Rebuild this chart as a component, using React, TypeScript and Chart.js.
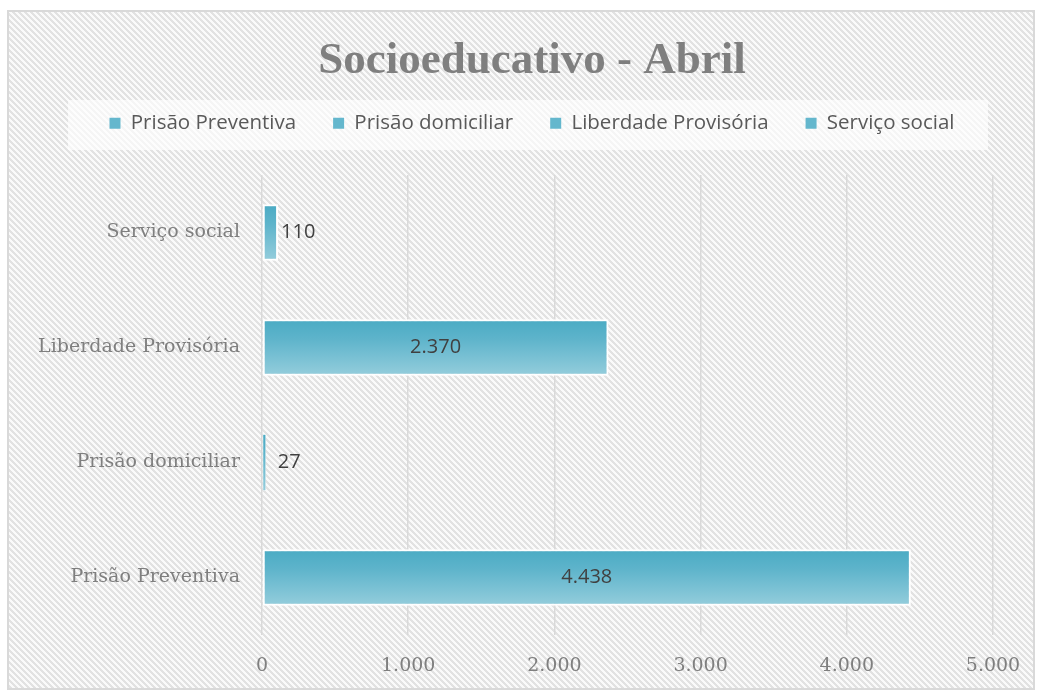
import React, { useEffect, useRef } from "react";
import { Chart, registerables } from "chart.js";
Chart.register(...registerables);

const chartTitle = "Socioeducativo - Abril";
const categories = ["Prisão Preventiva", "Prisão domiciliar", "Liberdade Provisória", "Serviço social"];
const values = [4438, 27, 2370, 110];
const xTickValues = [0, 1000, 2000, 3000, 4000, 5000];

const fmt = (v: number) => String(v).replace(/\B(?=(\d{3})+(?!\d))/g, ".");

function makePattern(ctx: CanvasRenderingContext2D) {
  const c = document.createElement("canvas");
  c.width = 6; c.height = 6;
  const p = c.getContext("2d")!;
  const img = p.createImageData(6, 6);
  for (let y = 0; y < 6; y++) for (let x = 0; x < 6; x++) {
    const on = (((x - y) % 6) + 6) % 6 < 3;
    const v = on ? 226 : 250;
    const i = (y * 6 + x) * 4;
    img.data[i] = v; img.data[i + 1] = v; img.data[i + 2] = v; img.data[i + 3] = 255;
  }
  p.putImageData(img, 0, 0);
  return ctx.createPattern(c, "repeat")!;
}

export default function App() {
  const ref = useRef<HTMLCanvasElement>(null);
  useEffect(() => {
    const canvas = ref.current!;
    const bgPlugin = {
      id: "bg",
      beforeLayout(chart: any) {
        const lg = chart.legend;
        if (lg && !lg.__patched) {
          const f = lg.fit;
          lg.fit = function () {
            f.call(this);
            this.height += 31.5;
          };
          lg.__patched = true;
        }
      },
      beforeDraw(chart: any) {
        const ctx = chart.ctx as CanvasRenderingContext2D;
        ctx.save();
        ctx.fillStyle = "#ffffff";
        ctx.fillRect(0, 0, chart.width, chart.height);
        ctx.fillStyle = makePattern(ctx);
        ctx.fillRect(8, 11, 1026, 678);
        ctx.strokeStyle = "#d9d9d9";
        ctx.lineWidth = 2;
        ctx.strokeRect(8, 11, 1026, 678);
        ctx.fillStyle = "rgba(255,255,255,0.65)";
        ctx.fillRect(68, 100, 920, 50);
        ctx.restore();
      },
    };
    const labelPlugin = {
      id: "vals",
      afterDatasetsDraw(chart: any) {
        const ctx = chart.ctx as CanvasRenderingContext2D;
        const meta = chart.getDatasetMeta(0);
        ctx.save();
        ctx.font = "20px 'Open Sans'";
        ctx.fillStyle = "#404040";
        ctx.textBaseline = "middle";
        meta.data.forEach((bar: any, i: number) => {
          const txt = fmt(values[i]);
          const w = bar.x - bar.base;
          if (w > 100) {
            ctx.textAlign = "center";
            ctx.fillText(txt, (bar.x + bar.base) / 2, bar.y);
          } else {
            ctx.textAlign = "left";
            ctx.fillText(txt, Math.max(bar.x + 3, bar.base + 15), bar.y);
          }
        });
        ctx.restore();
      },
    };
    const chart = new Chart(canvas, {
      type: "bar",
      data: {
        labels: categories,
        datasets: [
          {
            data: values,
            backgroundColor: (c: any) => {
              const ch = c.chart;
              const ys = ch.scales?.y;
              if (!ys) return "#6bbcd1";
              const cy = ys.getPixelForValue(c.dataIndex);
              const g = ch.ctx.createLinearGradient(0, cy - 28, 0, cy + 28);
              g.addColorStop(0, "#4aabc4");
              g.addColorStop(0.35, "#5eb4cb");
              g.addColorStop(1, "#94cddc");
              return g;
            },
            borderColor: "#ffffff",
            borderWidth: (c: any) => (values[c.dataIndex] < 100 ? 0.5 : 2),
            borderSkipped: false,
            barPercentage: 0.98,
            categoryPercentage: 0.5,
          },
        ],
      },
      options: {
        indexAxis: "y",
        responsive: false,
        animation: false,
        devicePixelRatio: 1,
        layout: { padding: { left: 71, right: 49, top: 12, bottom: 10 } },
        plugins: {
          title: {
            display: true,
            text: chartTitle,
            color: "#7f7f7f",
            font: { family: "'Liberation Serif'", size: 45, weight: "bold" },
            padding: { top: 22, bottom: -12 },
          },
          legend: {
            display: true,
            labels: {
              color: "#595959",
              font: { family: "'Open Sans'", size: 20.5 },
              boxWidth: 11,
              boxHeight: 11,
              padding: 37,
              generateLabels: () =>
                categories.map((c, i) => ({
                  text: c,
                  fillStyle: "#64b7cd",
                  strokeStyle: "#64b7cd",
                  fontColor: "#595959",
                  lineWidth: 0,
                  hidden: false,
                  index: i,
                  datasetIndex: 0,
                })),
            },
            onClick: () => {},
          },
          tooltip: { enabled: false },
        },
        scales: {
          x: {
            min: 0,
            max: 5000,
            afterBuildTicks: (s: any) => { s.ticks = xTickValues.map((v) => ({ value: v })); },
            ticks: {
              color: "#7f7f7f",
              font: { family: "'DejaVu Serif'", size: 19 },
              padding: 20,
              callback: (v: any) => fmt(Number(v)),
            },
            grid: { color: "#d9d9d9", lineWidth: 1.5, drawTicks: false },
            border: { display: false },
            afterFit: (s: any) => { s.height = 46; },
          },
          y: {
            reverse: true,
            ticks: {
              color: "#7f7f7f",
              font: { family: "'DejaVu Serif'", size: 19 },
              padding: 22,
            },
            grid: { display: false, drawTicks: false },
            border: { display: false },
            afterFit: (s: any) => {
              s.width = 191;
              s._computeLabelArea = () => undefined;
            },
          },
        },
      } as any,
      plugins: [bgPlugin, labelPlugin],
    });
    return () => chart.destroy();
  }, []);
  return (
    <div style={{ position: "absolute", left: 0, top: 0, width: 1042, height: 691 }}>
      <canvas ref={ref} width={1042} height={691} style={{ display: "block" }} />
    </div>
  );
}
